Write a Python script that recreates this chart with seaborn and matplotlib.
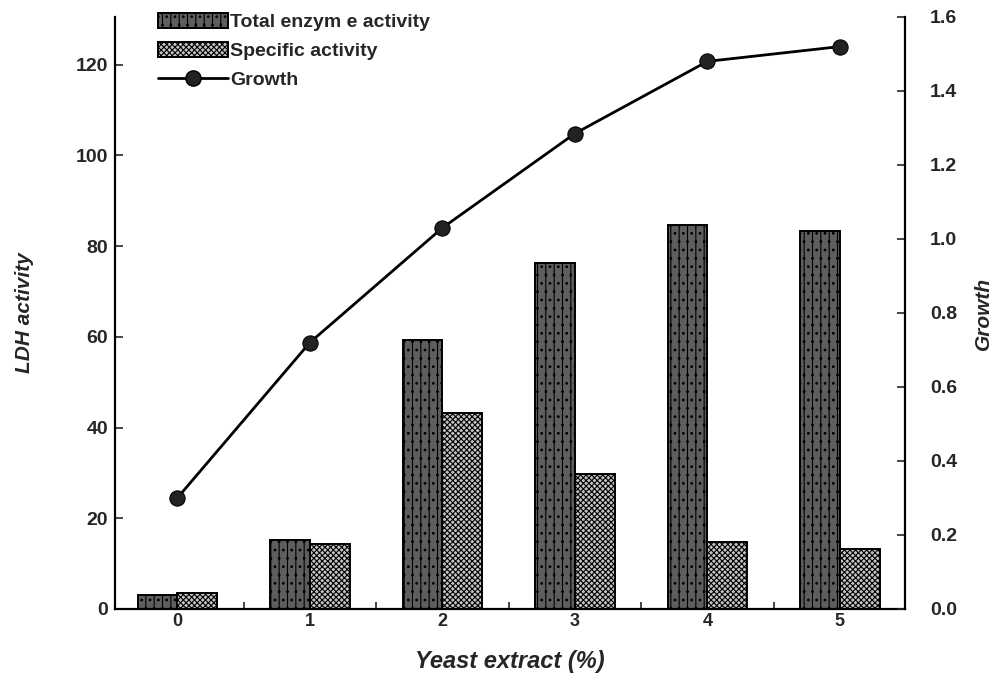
import matplotlib
matplotlib.use("Agg")
import matplotlib.pyplot as plt
from matplotlib.ticker import FixedLocator, NullFormatter
from matplotlib.lines import Line2D
import seaborn as sns
import pandas as pd

# Yeast extract concentration (%) and measured responses
yeast_extract = [0, 1, 2, 3, 4, 5]
total_activity = [3.1, 15.2, 59.3, 76.3, 84.7, 83.4]
specific_activity = [3.5, 14.3, 43.2, 29.8, 14.8, 13.2]
growth = [0.30, 0.72, 1.03, 1.285, 1.48, 1.52]

series_names = ["Total enzym e activity", "Specific activity"]

sns.set_theme(style="white")
plt.rcParams["font.family"] = ["Liberation Sans", "DejaVu Sans"]
plt.rcParams["hatch.linewidth"] = 0.8

df = pd.DataFrame({
    "yeast": yeast_extract * 2,
    "value": total_activity + specific_activity,
    "series": [series_names[0]] * len(yeast_extract) + [series_names[1]] * len(yeast_extract),
})

fig = plt.figure(figsize=(9.96, 6.79), dpi=100)
ax = fig.add_axes([0.1155, 0.1031, 0.793, 0.8719])

sns.barplot(data=df, x="yeast", y="value", hue="series", hue_order=series_names,
            width=0.6, ax=ax, legend=False, saturation=1,
            palette=["#707070", "#c8c8c8"], edgecolor="black", linewidth=1.4)

styles = [("#5e5e5e", "||.."), ("#c4c4c4", "xxxxxx")]
for container, (fc, hatch) in zip(ax.containers, styles):
    for bar in container:
        bar.set_facecolor(fc)
        bar.set_hatch(hatch)
        bar.set_edgecolor("black")

ax.set_xlim(-0.47, 5.49)
ax.set_ylim(0, 130.5)
ax.set_yticks([0, 20, 40, 60, 80, 100, 120])
ax.set_xlabel("Yeast extract (%)", fontsize=17, fontweight="bold", style="italic", labelpad=14)
ax.set_ylabel("LDH activity", fontsize=15, fontweight="bold", style="italic", labelpad=30)

# growth curve on a secondary axis
ax2 = ax.twinx()
sns.lineplot(x=list(range(len(yeast_extract))), y=growth, ax=ax2, color="black",
             linewidth=2, marker="o", markersize=11, markeredgecolor="black",
             markerfacecolor="#222222")
ax2.set_ylim(0, 1.6)
ax2.set_yticks([0.0, 0.2, 0.4, 0.6, 0.8, 1.0, 1.2, 1.4, 1.6])
ax2.set_yticklabels([f"{v:.1f}" for v in ax2.get_yticks()])
ax2.set_ylabel("Growth", fontsize=15, fontweight="bold", style="italic", labelpad=12)

for a in (ax, ax2):
    a.spines["top"].set_visible(False)
    for side in ("left", "right", "bottom"):
        a.spines[side].set_color("black")
        a.spines[side].set_linewidth(1.6)

ax.spines["right"].set_visible(False)
ax2.spines["left"].set_visible(False)
ax2.spines["bottom"].set_visible(False)

ax.tick_params(axis="y", direction="in", length=6, width=1.2, pad=5,
               labelsize=14, left=True)
ax.tick_params(axis="x", which="major", length=0, pad=3, labelsize=13)
ax.xaxis.set_minor_locator(FixedLocator([0.5, 1.5, 2.5, 3.5, 4.5]))
ax.xaxis.set_minor_formatter(NullFormatter())
ax.tick_params(axis="x", which="minor", direction="in", length=5, width=1.2, bottom=True)
ax2.tick_params(axis="y", direction="in", length=6, width=1.2, pad=18,
                labelsize=14, right=True)
for lbl in ax.get_yticklabels() + ax.get_xticklabels() + ax2.get_yticklabels():
    lbl.set_fontweight("bold")

handles = [ax.containers[0][0], ax.containers[1][0],
           Line2D([], [], color="black", linewidth=2, marker="o", markersize=11,
                  markerfacecolor="#222222")]
leg = ax.legend(handles, series_names + ["Growth"], loc="upper left",
                bbox_to_anchor=(0.044, 1.02), frameon=False, fontsize=14,
                handlelength=3.6, handleheight=0.8, handletextpad=0.15,
                labelspacing=0.55, borderaxespad=0)
for t in leg.get_texts():
    t.set_fontweight("bold")
ax2.set_zorder(ax.get_zorder() + 1)
ax2.patch.set_visible(False)
leg.set_zorder(10)

fig.savefig("out.png", dpi=100, facecolor="white")
